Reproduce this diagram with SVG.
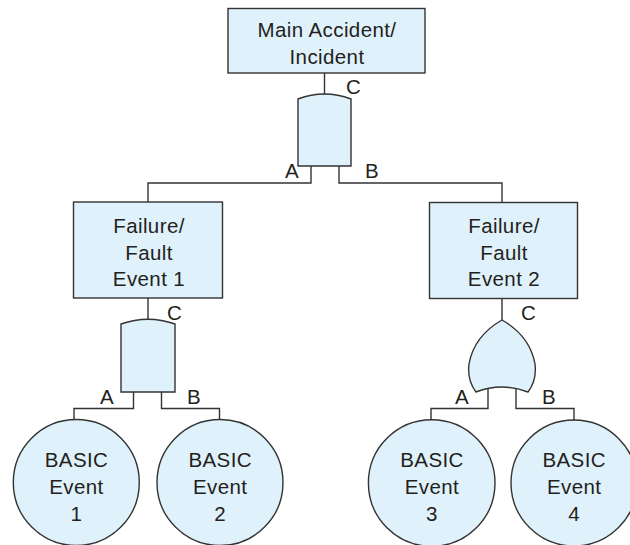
<svg xmlns="http://www.w3.org/2000/svg" width="630" height="545" viewBox="0 0 630 545">
<style>
.shape{fill:#dff1fa;stroke:#333;stroke-width:1.4}
.conn{fill:none;stroke:#333;stroke-width:1.4}
text{font-family:"Liberation Sans",Arial,sans-serif;font-size:20.5px;letter-spacing:0.4px;fill:#231f20}
.c{text-anchor:middle}
</style>
<rect width="630" height="545" fill="#fff"/>
<g id="connectors">
<path class="conn" d="M324.5,73 V94"/>
<path class="conn" d="M311,166 V183 H148 V202"/>
<path class="conn" d="M339,166 V183 H502 V202.5"/>
<path class="conn" d="M148,298 V319.5"/>
<path class="conn" d="M133.5,392 V408.5 H74 V419.5"/>
<path class="conn" d="M161.5,392 V408.5 H219.5 V419.5"/>
<path class="conn" d="M502,298.5 V320"/>
<path class="conn" d="M488,388 V408.5 H431 V420"/>
<path class="conn" d="M516,388 V408.5 H574 V420"/>
</g>
<g id="top-event">
<rect class="shape" x="228" y="8.5" width="197" height="64.5"/>
<text class="c" x="327" y="37">Main Accident/</text>
<text class="c" x="327" y="63.5">Incident</text>
</g>
<g id="gate-top-and">
<path class="shape" d="M298,166 L298,99 Q324.5,89 351,99 L351,166 Z"/>
<text x="346" y="94">C</text>
<text x="285" y="178">A</text>
<text x="365" y="178">B</text>
</g>
<g id="fault-1">
<rect class="shape" x="73.5" y="202" width="149" height="96"/>
<text class="c" x="149" y="233">Failure/</text>
<text class="c" x="149" y="260">Fault</text>
<text class="c" x="149" y="286">Event 1</text>
</g>
<g id="gate-and-1">
<path class="shape" d="M121,392 L121,324 Q148,314.5 175,324 L175,392 Z"/>
<text x="167" y="319.5">C</text>
<text x="100" y="403.5">A</text>
<text x="187" y="403.5">B</text>
</g>
<g id="fault-2">
<rect class="shape" x="429.5" y="202.5" width="148" height="96"/>
<text class="c" x="504" y="233">Failure/</text>
<text class="c" x="504" y="260">Fault</text>
<text class="c" x="504" y="286">Event 2</text>
</g>
<g id="gate-or-2">
<path class="shape" d="M476,392 Q467,380 469,364 Q474,336 502,320 Q530,336 535,364 Q537,380 528,392 Q502,382 476,392 Z"/>
<text x="521" y="319.5">C</text>
<text x="455" y="403.5">A</text>
<text x="542" y="403.5">B</text>
</g>
<g id="basic-1">
<circle class="shape" cx="76.3" cy="482.5" r="63"/>
<text class="c" x="76.5" y="467">BASIC</text>
<text class="c" x="76.5" y="494">Event</text>
<text class="c" x="76.5" y="521">1</text>
</g>
<g id="basic-2">
<circle class="shape" cx="220" cy="482.5" r="63"/>
<text class="c" x="220.2" y="467">BASIC</text>
<text class="c" x="220.2" y="494">Event</text>
<text class="c" x="220.2" y="521">2</text>
</g>
<g id="basic-3">
<circle class="shape" cx="431.7" cy="483" r="63.3"/>
<text class="c" x="432" y="467">BASIC</text>
<text class="c" x="432" y="494">Event</text>
<text class="c" x="432" y="521">3</text>
</g>
<g id="basic-4">
<circle class="shape" cx="574" cy="483" r="63"/>
<text class="c" x="574.2" y="467">BASIC</text>
<text class="c" x="574.2" y="494">Event</text>
<text class="c" x="574.2" y="521">4</text>
</g>
</svg>
